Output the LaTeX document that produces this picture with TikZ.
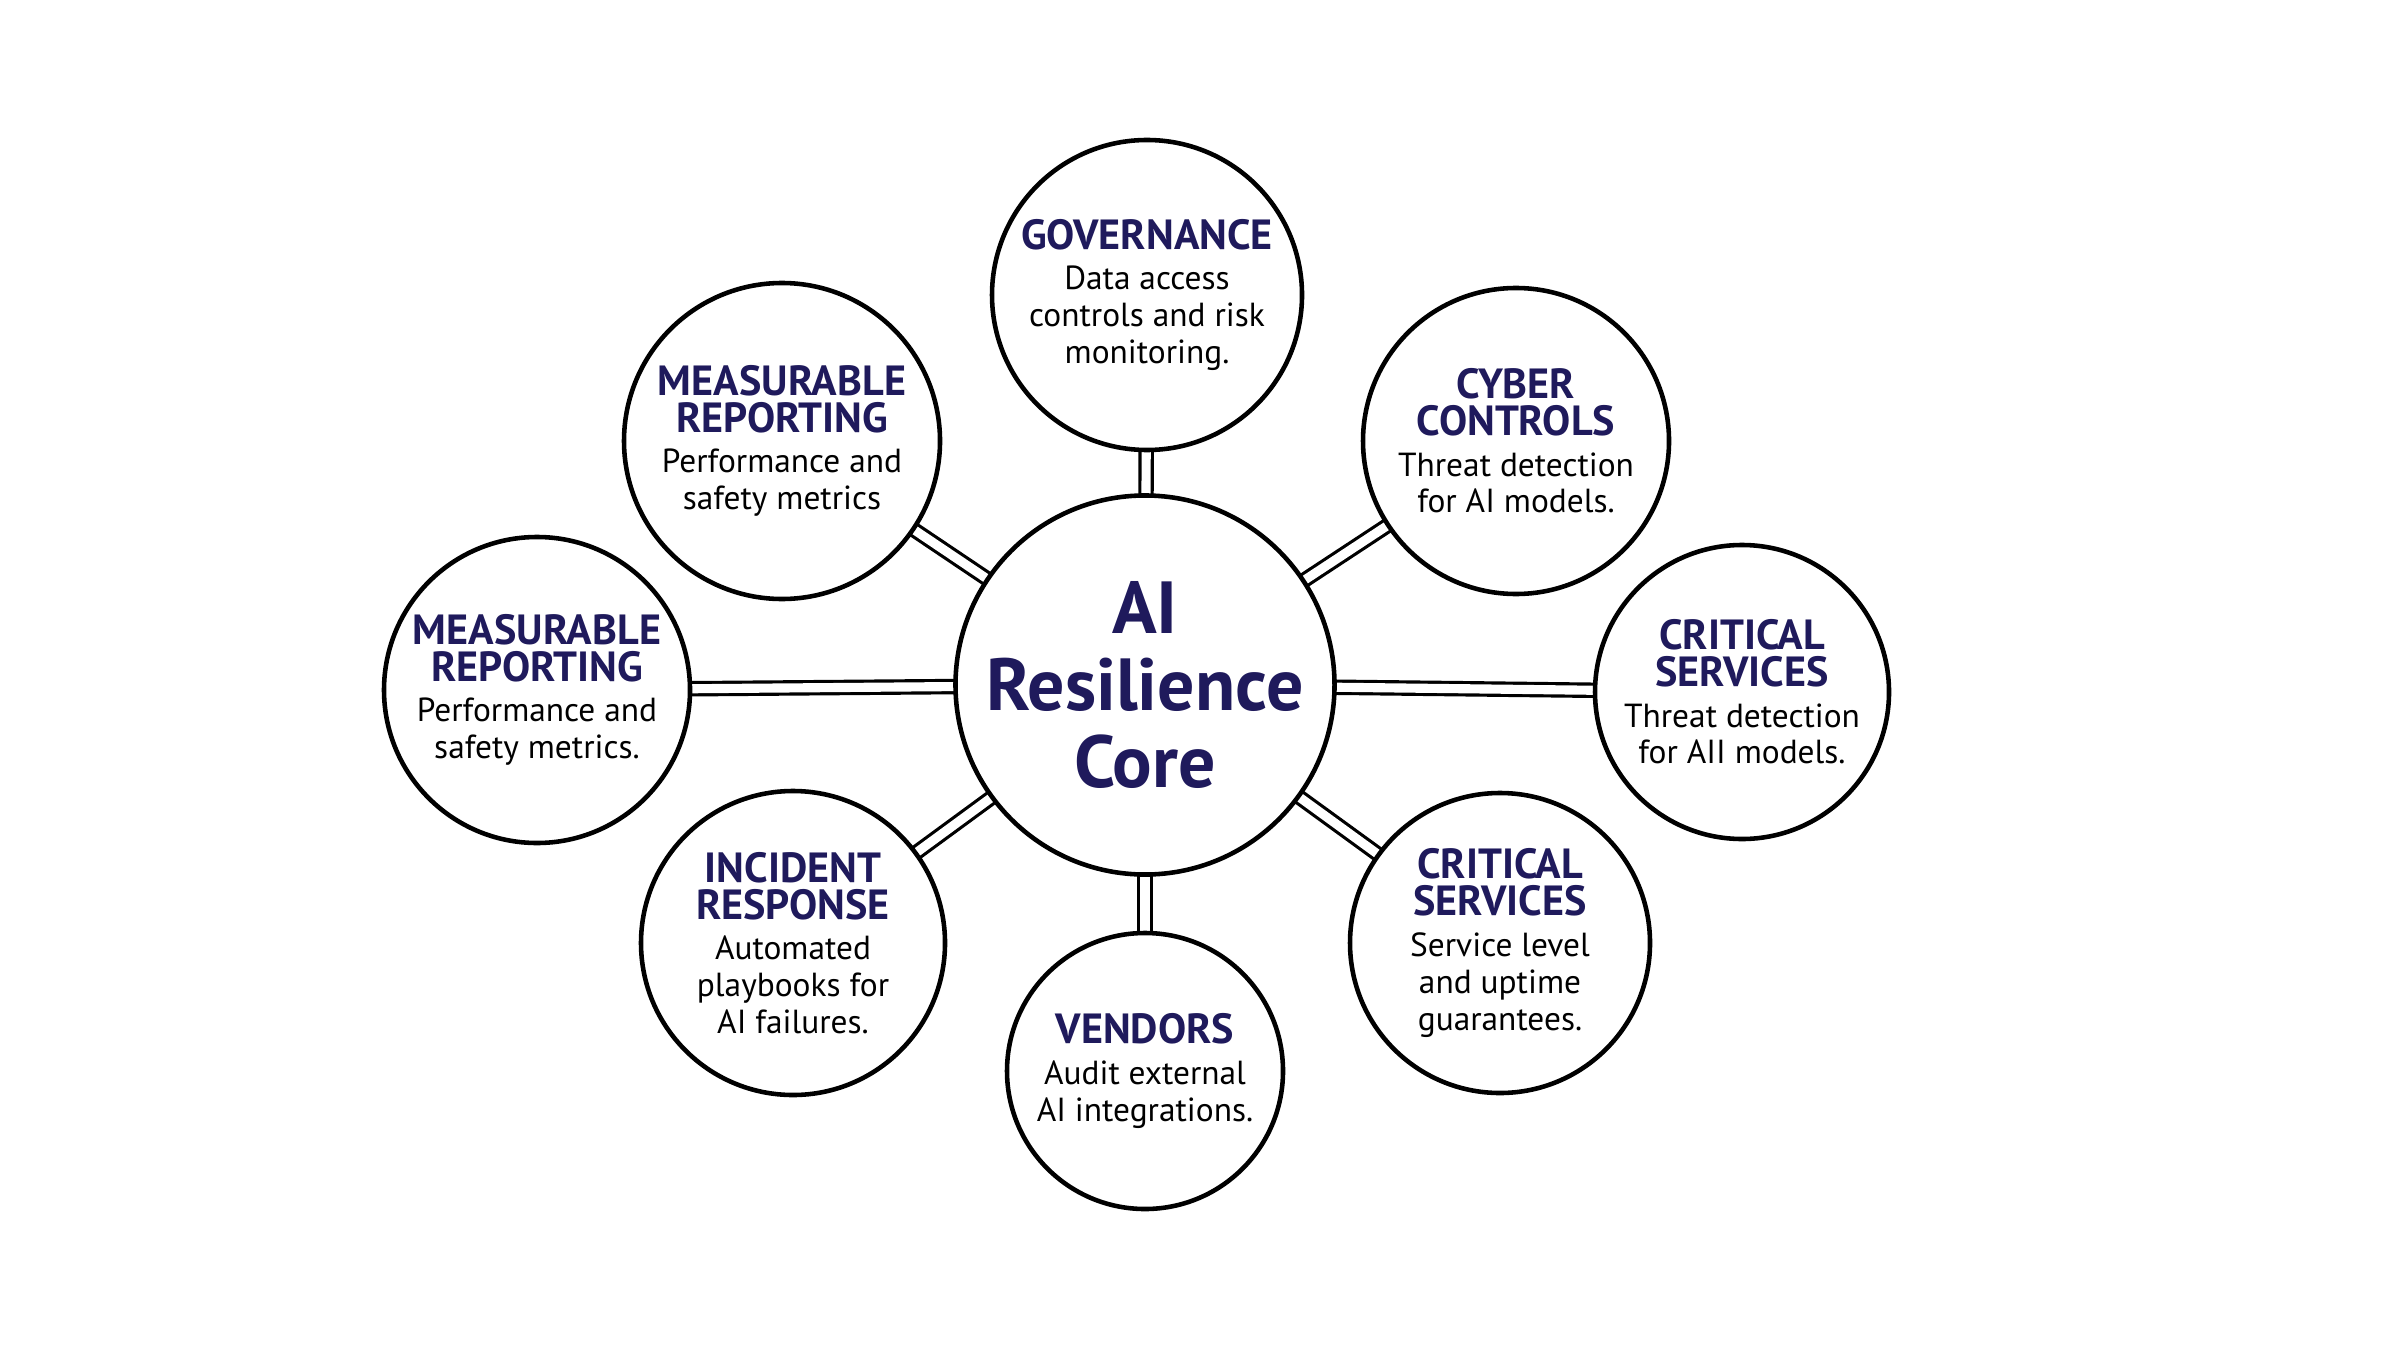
\documentclass[tikz,border=0pt]{standalone}
\usepackage{fontspec}
\setmainfont{PT Sans}
\definecolor{navy}{HTML}{1F1A5C}
\tikzset{
 bub/.style={circle,draw=black,line width=1.3pt,fill=white,align=center,inner sep=0pt,font=\fontsize{9.5}{10.5}\selectfont},
 conn/.style={draw=black,line width=0.9pt,double=white,double distance=2.6pt},
}
\newcommand{\titlef}{\color{navy}\bfseries\fontsize{12}{12.5}\selectfont}
\begin{document}
\begin{tikzpicture}
\useasboundingbox (0,0) rectangle (24,13.5);
\coordinate (cC) at (11.45,6.65);
\coordinate (cG) at (11.47,10.55);
\coordinate (cM1) at (7.82,9.09);
\coordinate (cCy) at (15.16,9.09);
\coordinate (cM2) at (5.37,6.60);
\coordinate (cCS1) at (17.42,6.58);
\coordinate (cI) at (7.93,4.07);
\coordinate (cV) at (11.45,2.79);
\coordinate (cCS2) at (15.0,4.07);
\foreach \t in {cG,cM1,cCy,cM2,cCS1,cI,cV,cCS2}{\draw[conn] (cC) -- (\t);}
\node[bub,minimum size=3.74cm,font=\bfseries\fontsize{21}{22}\selectfont,text=navy] (core) at (cC) {AI\\Resilience\\Core};
\node[bub,minimum size=3.1cm] (gov) at (cG) {\titlef GOVERNANCE\\[1pt]Data access\\controls and risk\\monitoring.};
\node[bub,minimum size=3.16cm] (mr1) at (cM1) {\titlef MEASURABLE\\\titlef REPORTING\\[1pt]Performance and\\safety metrics};
\node[bub,minimum size=3.06cm] (cyb) at (cCy) {\titlef CYBER\\\titlef CONTROLS\\[1pt]Threat detection\\for AI models.};
\node[bub,minimum size=3.06cm] (mr2) at (cM2) {\titlef MEASURABLE\\\titlef REPORTING\\[1pt]Performance and\\safety metrics.};
\node[bub,minimum size=2.94cm] (cs1) at (cCS1) {\titlef CRITICAL\\\titlef SERVICES\\[1pt]Threat detection\\for AII models.};
\node[bub,minimum size=3.04cm] (inc) at (cI) {\titlef INCIDENT\\\titlef RESPONSE\\[1pt]Automated\\playbooks for\\AI failures.};
\node[bub,minimum size=2.76cm] (ven) at (cV) {\titlef VENDORS\\[1pt]Audit external\\AI integrations.};
\node[bub,minimum size=3.0cm] (cs2) at (cCS2) {\titlef CRITICAL\\\titlef SERVICES\\[1pt]Service level\\and uptime\\guarantees.};
\end{tikzpicture}
\end{document}
